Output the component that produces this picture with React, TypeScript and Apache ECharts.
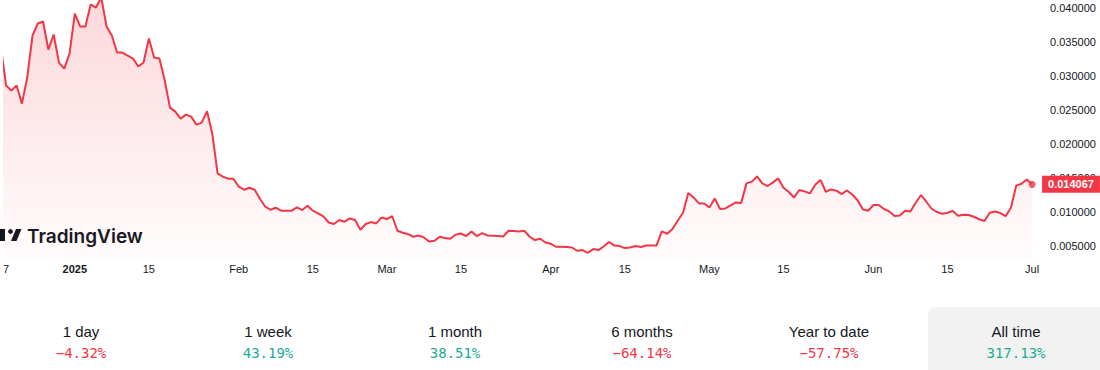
import React, { useEffect, useRef } from "react";
import * as echarts from "echarts";

// Daily prices, starting 2024-12-18 (day -14 relative to 2025-01-01)
const startDay = -14;
const dec2024 = [0.03448, 0.02859, 0.02785, 0.02859, 0.02594, 0.02977, 0.03595, 0.03772, 0.03801, 0.03389, 0.0361, 0.03198, 0.03109, 0.0333];
const jan2025 = [0.03919, 0.03728, 0.03728, 0.04052, 0.04007, 0.04155, 0.03728, 0.03595, 0.03345, 0.03345, 0.03301, 0.03257, 0.03139, 0.03198, 0.03551, 0.03271, 0.03257, 0.02933, 0.02535, 0.02476, 0.02373, 0.02432, 0.02403, 0.02285, 0.02314, 0.02481, 0.02152, 0.01563, 0.01519, 0.0149, 0.0149];
const feb2025 = [0.01372, 0.01328, 0.01357, 0.01328, 0.01195, 0.01078, 0.01033, 0.01063, 0.01019, 0.01019, 0.01019, 0.01067, 0.01029, 0.01092, 0.01019, 0.00979, 0.00935, 0.00846, 0.00823, 0.00882, 0.00857, 0.00905, 0.00882, 0.00739, 0.00823, 0.00852, 0.00832, 0.0092];
const mar2025 = [0.00896, 0.00941, 0.00724, 0.00695, 0.00676, 0.00636, 0.00655, 0.00626, 0.00567, 0.00577, 0.00636, 0.00617, 0.00606, 0.00665, 0.00684, 0.00646, 0.00714, 0.00646, 0.0069, 0.00655, 0.00651, 0.00646, 0.0064, 0.00724, 0.0072, 0.00714, 0.00724, 0.00636, 0.00587, 0.00606, 0.00552];
const apr2025 = [0.00533, 0.00489, 0.00489, 0.00484, 0.00478, 0.0043, 0.0044, 0.004, 0.00455, 0.0044, 0.00493, 0.00558, 0.00508, 0.00499, 0.00469, 0.00478, 0.00499, 0.00484, 0.00508, 0.00508, 0.00508, 0.00714, 0.0068, 0.00749, 0.00871, 0.00989, 0.01279, 0.01214, 0.01126, 0.01126];
const may2025 = [0.01067, 0.012, 0.01044, 0.01052, 0.01097, 0.01141, 0.01132, 0.01421, 0.01446, 0.01524, 0.01421, 0.01382, 0.01435, 0.01494, 0.01357, 0.01294, 0.01214, 0.01323, 0.01303, 0.01273, 0.01401, 0.01471, 0.01298, 0.01332, 0.01313, 0.01264, 0.01317, 0.01257, 0.01173, 0.01041, 0.01019];
const jun2025 = [0.01103, 0.01103, 0.01044, 0.01008, 0.00941, 0.0095, 0.01019, 0.01008, 0.01136, 0.0125, 0.01151, 0.01048, 0.01, 0.00974, 0.00989, 0.01014, 0.00945, 0.0096, 0.00955, 0.0093, 0.00893, 0.00867, 0.00989, 0.01008, 0.00985, 0.00938, 0.01063, 0.01387, 0.01416, 0.01479];
const jul2025 = [0.014067];

// X tick labels (day offset from 2025-01-01)
const xTickDays = [-13, 0, 14, 31, 45, 59, 73, 90, 104, 120, 134, 151, 165, 181];
const xTickLabels = ["7", "2025", "15", "Feb", "15", "Mar", "15", "Apr", "15", "May", "15", "Jun", "15", "Jul"];

// Y tick labels
const yTicks = [0.005, 0.01, 0.015, 0.02, 0.025, 0.03, 0.035, 0.04];

// Performance table
const periods = ["1 day", "1 week", "1 month", "6 months", "Year to date", "All time"];
const changes = [-4.32, 43.19, 38.51, -64.14, -57.75, 317.13];

const RED = "#f23645";
const GREEN = "#22ab94";
const TEXT = "#131722";

export default function App() {
  const ref = useRef<HTMLDivElement>(null);

  useEffect(() => {
    document.body.style.margin = "0";
    if (!ref.current) return;
    const chart = echarts.init(ref.current, null, { renderer: "svg" });

    const prices = [...dec2024, ...jan2025, ...feb2025, ...mar2025, ...apr2025, ...may2025, ...jun2025, ...jul2025];
    const data = prices.map((v, i) => [startDay + i, v]);
    const last = data[data.length - 1];

    const colCenters = [81, 268, 455, 642, 829, 1016];
    const fmtPct = (v: number) => (v < 0 ? "\u2212" + Math.abs(v).toFixed(2) : v.toFixed(2)) + "%";

    const graphics: any[] = [
      {
        type: "rect",
        shape: { x: 928, y: 307, width: 190, height: 80, r: 8 },
        style: { fill: "#f2f2f2" },
        z: 0,
      },
      // TradingView watermark
      { type: "rect", shape: { x: -6, y: 229, width: 11, height: 4.5 }, style: { fill: TEXT } },
      { type: "rect", shape: { x: 0, y: 229, width: 5, height: 12 }, style: { fill: TEXT } },
      { type: "circle", shape: { cx: 10.5, cy: 231.5, r: 2.4 }, style: { fill: TEXT } },
      { type: "polygon", shape: { points: [[11, 241], [16.5, 241], [21.5, 229], [16, 229]] }, style: { fill: TEXT } },
      {
        type: "text",
        x: 27,
        y: 236,
        style: { text: "TradingView", fontSize: 19, fontWeight: 600, fontFamily: "Inter", fill: TEXT, verticalAlign: "middle", align: "left" },
      },
    ];
    periods.forEach((p, i) => {
      graphics.push({
        type: "text",
        x: colCenters[i],
        y: 331,
        z: 2,
        style: { text: p, fontSize: 15, fontFamily: "Liberation Sans", fill: TEXT, align: "center", verticalAlign: "middle" },
      });
      graphics.push({
        type: "text",
        x: colCenters[i],
        y: 353,
        z: 2,
        style: {
          text: fmtPct(changes[i]),
          fontSize: 14,
          fontFamily: "DejaVu Sans Mono",
          fill: changes[i] < 0 ? RED : GREEN,
          align: "center",
          verticalAlign: "middle",
        },
      });
    });

    chart.setOption({
      animation: false,
      grid: { left: 0, top: 0, width: 1040, height: 258, containLabel: false },
      xAxis: {
        type: "value",
        min: -13.32,
        max: 182.5,
        axisLine: { show: false },
        axisTick: { show: false },
        splitLine: { show: false },
        axisLabel: {
          customValues: xTickDays,
          margin: 5,
          fontSize: 11,
          fontFamily: "Liberation Sans",
          color: TEXT,
          formatter: (v: number) => {
            const i = xTickDays.indexOf(Math.round(v));
            const t = i >= 0 ? xTickLabels[i] : "";
            return t === "2025" ? "{b|2025}" : t;
          },
          rich: { b: { fontWeight: "bold", fontSize: 11, fontFamily: "Liberation Sans", color: TEXT } },
        },
      },
      yAxis: {
        type: "value",
        position: "right",
        min: 0.0032353,
        max: 0.0411765,
        axisLine: { show: false },
        axisTick: { show: false },
        splitLine: { show: false },
        axisLabel: {
          customValues: yTicks,
          margin: 10,
          fontSize: 11,
          fontFamily: "Liberation Sans",
          color: TEXT,
          formatter: (v: number) => v.toFixed(6),
        },
      },
      series: [
        {
          type: "line",
          data,
          showSymbol: false,
          lineStyle: { color: RED, width: 2 },
          itemStyle: { color: RED },
          areaStyle: {
            color: new echarts.graphic.LinearGradient(0, 0, 0, 1, [
              { offset: 0, color: "rgba(242,54,69,0.28)" },
              { offset: 1, color: "rgba(242,54,69,0.02)" },
            ]),
          },
          endLabel: {
            show: true,
            distance: 10,
            formatter: () => (last[1] as number).toFixed(6),
            backgroundColor: RED,
            color: "#ffffff",
            fontSize: 11,
            fontWeight: "bold",
            fontFamily: "Liberation Sans",
            padding: [3, 6, 3, 6],
          },
          z: 3,
        },
        {
          type: "scatter",
          data: [last],
          symbolSize: 7,
          itemStyle: { color: RED },
          z: 4,
        },
      ],
      graphic: graphics,
    });

    return () => chart.dispose();
  }, []);

  return <div ref={ref} style={{ width: 1100, height: 370 }} />;
}
